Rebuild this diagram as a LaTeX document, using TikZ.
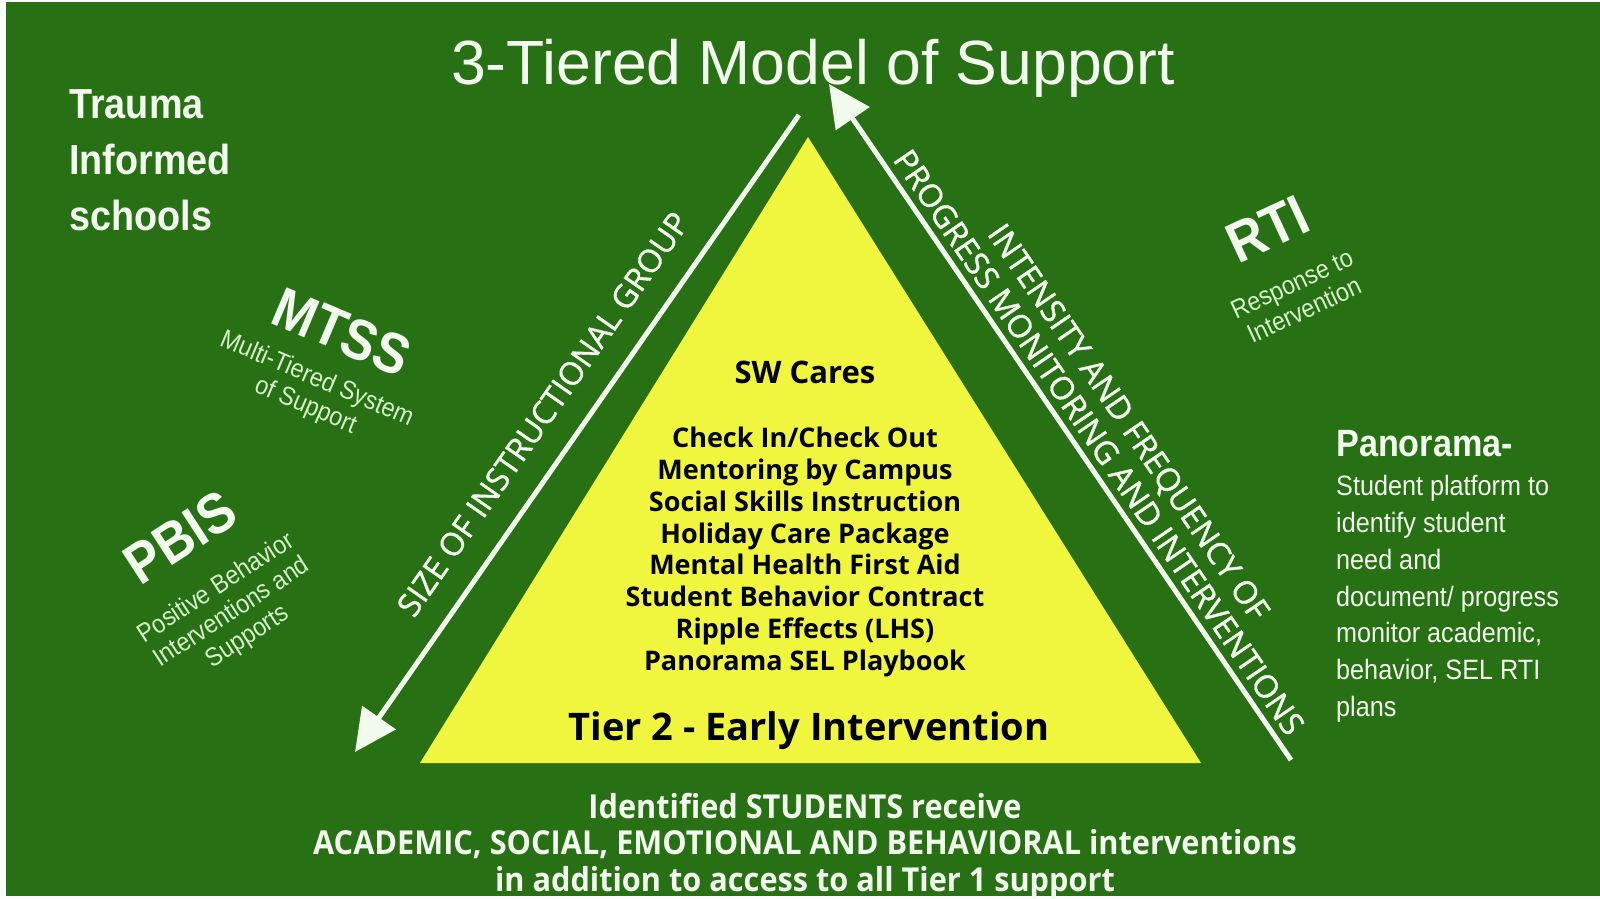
\documentclass[tikz,border=0pt]{standalone}
\usepackage{fontspec}
\setmainfont{Open Sans}
\newfontfamily\headfont{Liberation Sans}
\newfontfamily\narrowfont[FakeStretch=0.9]{Liberation Sans}
\newfontfamily\condfont[FakeStretch=0.93]{Open Sans}
\newfontfamily\axisfont[FakeBold=1.2]{Open Sans}
\usetikzlibrary{arrows.meta,positioning}

\definecolor{board}{RGB}{39,112,20}
\definecolor{pyramid}{RGB}{240,246,62}
\definecolor{chalk}{RGB}{243,250,238}
\definecolor{softchalk}{RGB}{214,240,204}

\newcommand{\fs}[2]{\fontsize{#1bp}{#2bp}\selectfont}

\begin{document}
\begin{tikzpicture}[
    x=1bp, y=-1bp,
    >={Triangle[length=42bp,width=40bp]},
    axis/.style={draw=chalk, line width=5bp, ->},
    tag/.style={text=chalk, font=\narrowfont\bfseries\fs{57}{57}, inner sep=0pt},
    subtag/.style={text=softchalk, font=\narrowfont\fs{26}{29}, align=center, inner sep=0pt},
    axislbl/.style={text=chalk, font=\axisfont\fs{32}{36}, align=center, inner sep=0pt},
    item/.style={font=\bfseries\fs{27}{31.8}, align=center, inner sep=0pt}
  ]
  \useasboundingbox (0,0) rectangle (1600,898);
  \fill[white] (0,0) rectangle (1600,898);
  \fill[board] (6,2) rectangle (1600,896);

  % pyramid
  \coordinate (apex) at (808,137);
  \coordinate (baseL) at (420,763);
  \coordinate (baseR) at (1201,763);
  \fill[pyramid] (apex) -- (baseL) -- (baseR) -- cycle;

  % the two axes beside the pyramid
  \coordinate (groupTop) at (799,115);
  \coordinate (groupEnd) at (355,752);
  \coordinate (levelStart) at (1291,760);
  \coordinate (levelEnd) at (829,84);
  \draw[axis] (groupTop) -- (groupEnd);
  \draw[axis] (levelStart) -- (levelEnd);
  \node[axislbl, rotate=55.1] (grouplbl) at (543,414) {SIZE OF INSTRUCTIONAL GROUP};
  \node[axislbl, rotate=-55.65] (levellbl) at (1114,432)
    {INTENSITY AND FREQUENCY OF\\PROGRESS MONITORING AND INTERVENTIONS};

  \node[text=chalk, font=\headfont\fs{62.5}{62.5}, anchor=base, inner sep=0pt] (title) at (813,84)
    {3-Tiered Model of Support};

  % inside the pyramid
  \node[item, font=\bfseries\fs{31}{31}] (cares) at (805,372) {SW Cares};
  \node[item] (items) at (805,552) {Check In/Check Out\\Mentoring by Campus\\Social Skills Instruction\\
    Holiday Care Package\\Mental Health First Aid\\Student Behavior Contract\\
    Ripple Effects (LHS)\\Panorama SEL Playbook};
  \node[item, font=\bfseries\fs{38}{38}] (tier) at (809,731) {Tier 2 - Early Intervention};

  \node[text=chalk, font=\condfont\bfseries\fs{33}{36.5}, align=center, inner sep=0pt] (students) at (805,846)
    {Identified STUDENTS receive\\ACADEMIC, SOCIAL, EMOTIONAL AND BEHAVIORAL interventions\\
    in addition to access to all Tier 1 support};

  % frameworks around the pyramid
  \node[text=chalk, font=\narrowfont\bfseries\fs{42}{56}, align=left, anchor=west, inner sep=0pt] (trauma) at (69,160)
    {Trauma\\Informed\\schools};
  \node[tag, rotate=-23] (mtss) at (342,332) {MTSS};
  \node[subtag, rotate=-23] (mtssfull) at (311,393) {Multi-Tiered System\\of Support};
  \node[tag, rotate=33] (pbis) at (180,537) {PBIS};
  \node[subtag, rotate=33] (pbisfull) at (232,613) {Positive Behavior\\Interventions and\\Supports};
  \node[tag, rotate=25] (rti) at (1268,229) {RTI};
  \node[subtag, rotate=25] (rtifull) at (1298,297) {Response to\\Intervention};

  \node[text=chalk, font=\narrowfont\bfseries\fs{38}{38}, anchor=west, inner sep=0pt] (pano) at (1336,444) {Panorama-};
  \node[text=chalk, font=\narrowfont\fs{28}{36.7}, align=left, inner sep=0pt,
        below=18bp of pano.south west, anchor=north west] (panobody)
    {Student platform to\\identify student\\need and\\document/ progress\\monitor academic,\\behavior, SEL RTI\\plans};
\end{tikzpicture}
\end{document}
